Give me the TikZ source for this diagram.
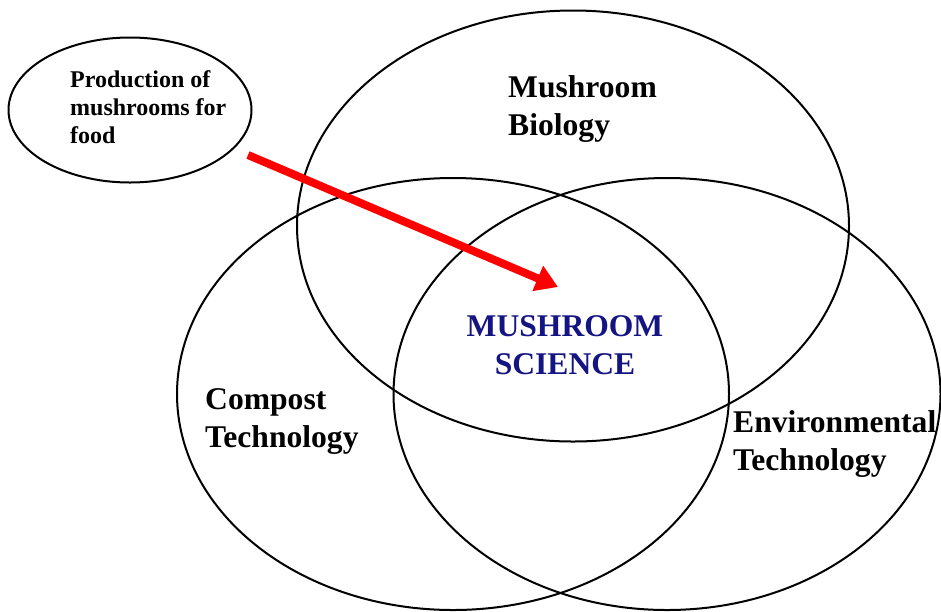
\documentclass[tikz,border=0pt]{standalone}
\usepackage{fontspec}
\setmainfont{Liberation Serif}
\usetikzlibrary{arrows.meta,shapes.geometric}
\definecolor{sciblue}{RGB}{20,20,130}
\begin{document}
\begin{tikzpicture}[x=1pt,y=-1pt,line join=round,
	ring/.style={draw,ellipse,line width=2pt,inner sep=0pt},
	big/.style={font=\fontsize{31.6}{37.5}\selectfont\bfseries,align=left,anchor=base west,inner sep=0pt},
	small/.style={font=\fontsize{24}{28}\selectfont\bfseries,align=left,anchor=base west,inner sep=0pt}]
	\useasboundingbox (0,0) rectangle (941,611);
	%cac vong tron
	\node[ring,minimum width=552pt,minimum height=431pt] (bio) at (573,226) {};
	\node[ring,minimum width=552pt,minimum height=432pt] (comp) at (453,394) {};
	\node[ring,minimum width=547pt,minimum height=432pt] (env) at (667,394) {};
	\node[ring,minimum width=243pt,minimum height=145pt] (prod) at (130,110) {};
	%chu (diem dat = dong cuoi)
	\node[small] (tprod) at (70,143) {Production of\\mushrooms for\\food};
	\node[big] (tbio) at (508,135) {Mushroom\\Biology};
	\node[big] (tcomp) at (205,447) {Compost\\Technology};
	\node[big] (tenv) at (733,470) {Environmental\\Technology};
	\node[big,anchor=base,align=center,text=sciblue] (tsci) at (565,374) {MUSHROOM\\SCIENCE};
	%mui ten
	\path (248,155) coordinate (S) (558,287) coordinate (E);
	\draw[red,line width=8pt,-{Triangle[length=22pt,width=26pt]}] (S)--(E);
\end{tikzpicture}
\end{document}
